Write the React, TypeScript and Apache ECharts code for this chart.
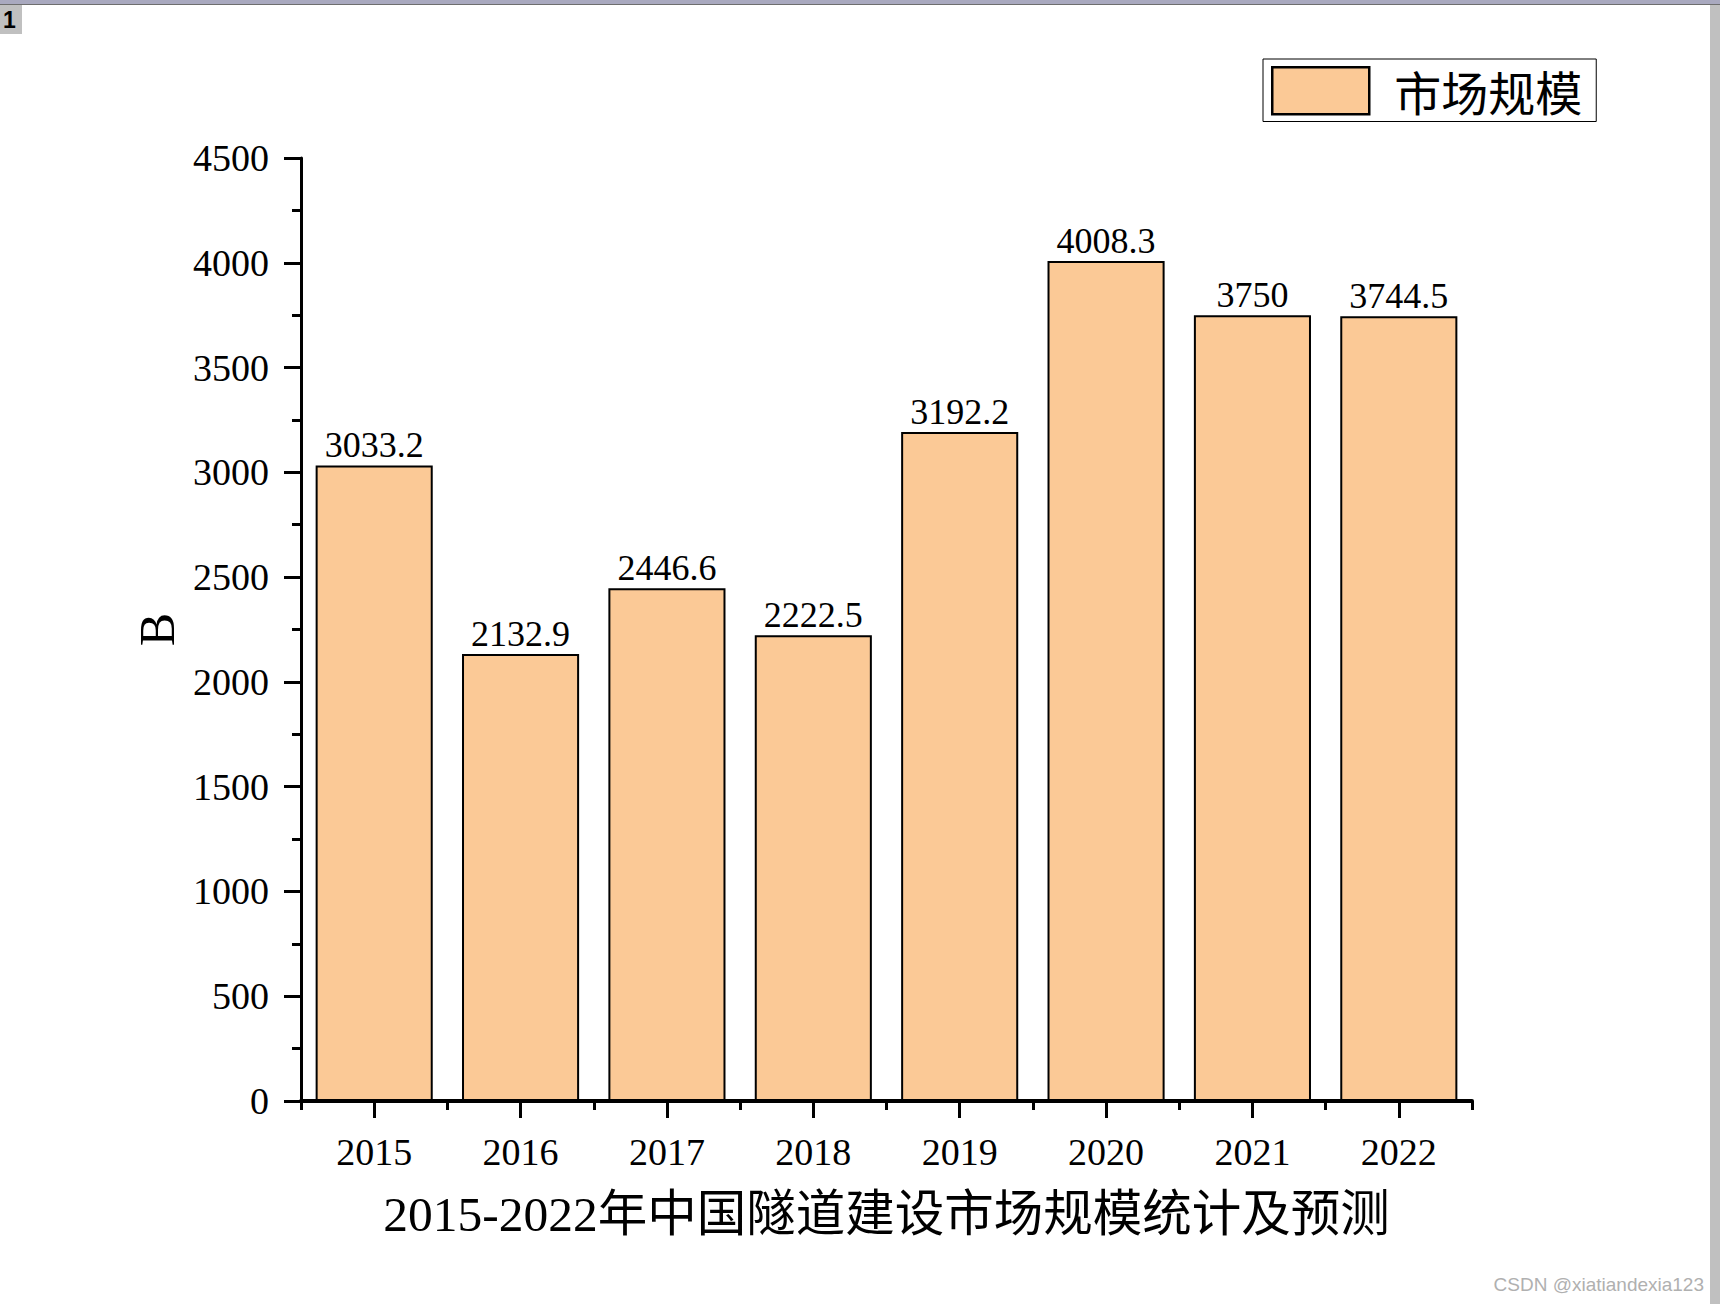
import React, { useEffect, useRef } from "react";
import * as echarts from "echarts";

const categories = ["2015", "2016", "2017", "2018", "2019", "2020", "2021", "2022"];
const marketSize = [3033.2, 2132.9, 2446.6, 2222.5, 3192.2, 4008.3, 3750, 3744.5];
const seriesName = "市场规模";
const xTitle = "2015-2022年中国隧道建设市场规模统计及预测";
const yTitle = "B";
const watermark = "CSDN @xiatiandexia123";

const SERIF = '"Liberation Serif", "Times New Roman", "Noto Sans CJK SC", serif';
const CJK = '"Noto Sans CJK SC", "Liberation Serif", serif';

export default function App() {
  const ref = useRef<HTMLDivElement>(null);
  useEffect(() => {
    const chart = echarts.init(ref.current!, null, { renderer: "svg" });
    chart.setOption({
      animation: false,
      backgroundColor: "#ffffff",
      grid: { left: 301, right: 248, top: 158, bottom: 203, containLabel: false },
      legend: {
        show: true,
        left: 1263,
        top: 59,
        padding: [7, 14, 6, 8],
        borderColor: "#000",
        borderWidth: 1,
        icon: "rect",
        itemWidth: 97,
        itemHeight: 47,
        itemStyle: { borderColor: "#000", borderWidth: 2.5 },
        textStyle: {
          fontFamily: CJK,
          fontSize: 47,
          color: "#000",
          padding: [0, 0, 0, 20],
        },
        data: [seriesName],
      },
      xAxis: [
        {
          type: "category",
          data: categories,
          position: "bottom",
          name: xTitle,
          nameLocation: "middle",
          nameGap: 89,
          nameTextStyle: { fontFamily: SERIF, fontSize: 49.5, color: "#000" },
          axisLine: { show: true, onZero: false, lineStyle: { color: "#000", width: 4 } },
          axisTick: { show: true, alignWithLabel: true, length: 17, lineStyle: { color: "#000", width: 3 } },
          axisLabel: { fontFamily: SERIF, fontSize: 38, color: "#000", margin: 32 },
          splitLine: { show: false },
        },
        {
          type: "category",
          data: categories,
          position: "bottom",
          axisLine: { show: false, onZero: false },
          axisTick: { show: true, alignWithLabel: false, length: 9, lineStyle: { color: "#000", width: 3 } },
          axisLabel: { show: false },
          splitLine: { show: false },
        },
      ],
      yAxis: {
        type: "value",
        min: 0,
        max: 4500,
        interval: 500,
        name: yTitle,
        nameLocation: "middle",
        nameGap: 112,
        nameTextStyle: { fontFamily: SERIF, fontSize: 50, color: "#000" },
        axisLine: { show: true, lineStyle: { color: "#000", width: 3 } },
        axisTick: { show: true, length: 17, lineStyle: { color: "#000", width: 3 } },
        minorTick: { show: true, splitNumber: 2, length: 9, lineStyle: { color: "#000", width: 3 } },
        axisLabel: {
          fontFamily: SERIF,
          fontSize: 38,
          color: "#000",
          margin: 32,
          formatter: (v: number) => String(v),
        },
        splitLine: { show: false },
      },
      series: [
        {
          name: seriesName,
          type: "bar",
          xAxisIndex: 0,
          data: marketSize,
          barWidth: "80%",
          itemStyle: { color: "#FBC996", borderColor: "#000", borderWidth: 2 },
          label: {
            show: true,
            position: "top",
            distance: 2,
            fontFamily: SERIF,
            fontSize: 36,
            color: "#000",
          },
        },
      ],
      graphic: [
        { type: "rect", left: 0, top: 0, shape: { width: 1720, height: 4 }, style: { fill: "#a9a9bf" } },
        { type: "rect", left: 0, top: 4, shape: { width: 1720, height: 1 }, style: { fill: "#6e6e6e" } },
        { type: "rect", left: 1710, top: 5, shape: { width: 10, height: 1299 }, style: { fill: "#c0c0c0" } },
        { type: "rect", left: 0, top: 5, shape: { width: 22, height: 29 }, style: { fill: "#c0c0c0" } },
        {
          type: "text",
          left: 3,
          top: 8,
          style: { text: "1", fontFamily: '"Liberation Sans", Arial, sans-serif', fontWeight: "bold", fontSize: 23, fill: "#000" },
        },
        {
          type: "text",
          right: 16,
          top: 1275,
          style: { text: watermark, fontFamily: '"Liberation Sans", Arial, sans-serif', fontSize: 19, fill: "#b0b0b0" },
        },
      ],
    });
    return () => chart.dispose();
  }, []);
  return (
    <div
      ref={ref}
      style={{ position: "absolute", left: 0, top: 0, width: 1720, height: 1304, background: "#fff" }}
    />
  );
}
